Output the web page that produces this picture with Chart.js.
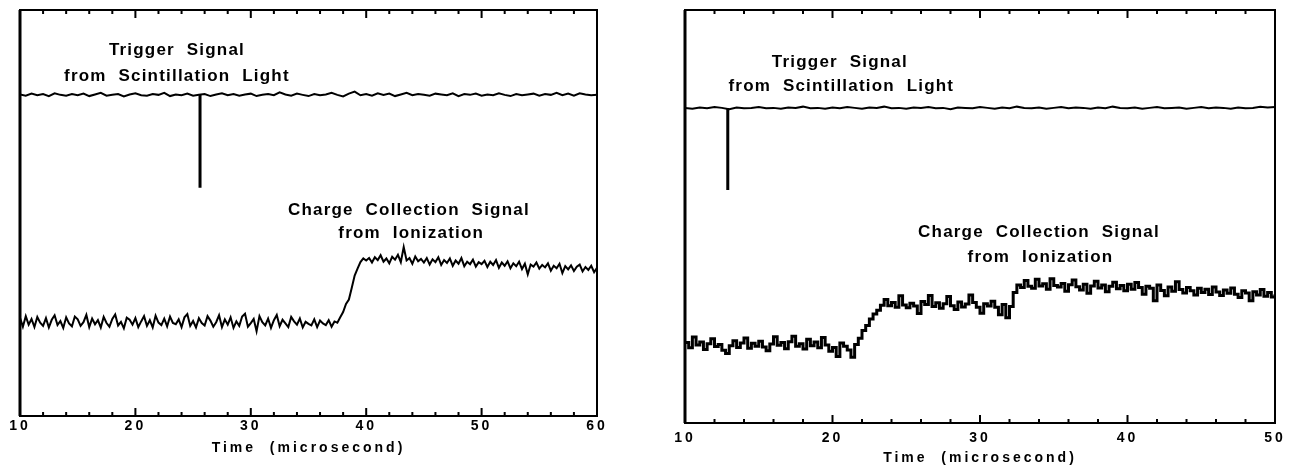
<!DOCTYPE html>
<html>
<head>
<meta charset="utf-8">
<title>Trigger and charge collection signals</title>
<script src="https://cdn.jsdelivr.net/npm/chart.js@4.4.0/dist/chart.umd.min.js"></script>
<style>
  html, body { margin: 0; padding: 0; background: #fff; }
  #wrap { position: relative; width: 1293px; height: 475px; overflow: hidden; }
  canvas { position: absolute; top: 0; }
  #leftChart { left: 0; }
  #rightChart { left: 645px; }
</style>
</head>
<body>
<div id="wrap">
  <canvas id="leftChart" width="645" height="475"></canvas>
  <canvas id="rightChart" width="648" height="475"></canvas>
</div>
<script>
/* ===== Data (level in arbitrary units, 0-100) ===== */

// left panel, 10..60 microseconds
const leftRange = [10, 60];
const leftTrigStep = 0.5;     // samples every 0.5 us starting at 10
const leftTrigger = [
  79.2, 78.9, 79.4, 79.0, 79.3, 78.8, 79.5, 79.1, 78.9, 79.3,   // 10
  79.0, 79.4, 78.8, 79.2, 79.6, 78.9, 79.1, 79.3, 78.7, 79.2,   // 15
  79.5, 79.0, 78.9, 79.3, 79.1, 79.6, 78.8, 79.2, 79.0, 79.4,   // 20
  78.9, 79.1, 79.3, 78.8, 79.2, 79.5, 79.0, 79.3, 78.9, 79.2,   // 25
  79.4, 78.8, 79.1, 79.3, 79.0, 79.7, 79.2, 78.9, 79.4, 79.1,   // 30
  78.8, 79.3, 79.0, 79.2, 79.6, 79.1, 78.7, 79.4, 79.9, 79.0,   // 35
  79.3, 78.9, 79.5, 79.1, 79.4, 78.8, 79.2, 79.6, 79.0, 79.3,   // 40
  79.1, 78.9, 79.4, 79.2, 79.0, 79.5, 78.8, 79.3, 79.1, 79.4,   // 45
  78.9, 79.2, 79.0, 79.5, 79.1, 78.8, 79.3, 79.0, 79.2, 79.4,   // 50
  78.9, 79.3, 79.1, 79.6, 79.0, 79.4, 78.9, 79.5, 79.2, 79.0,   // 55
  79.1
];
const leftSpikeTime = [25.6, 25.6];
const leftSpikeLevel = [79.1, 56.2];

const leftChargeStep = 0.25;  // samples every 0.25 us starting at 10
const leftCharge = [
  24.2, 22.0, 24.6, 22.5, 23.9, 21.9, 24.4, 23.0, 22.2, 24.1, 21.8, 23.7, 24.8, 22.4, 23.4, 21.7, 24.3, 22.8, 22.1, 24.5, // 10
  23.8, 22.2, 23.1, 24.9, 21.9, 24.0, 22.6, 23.6, 21.8, 24.4, 22.9, 22.0, 23.9, 25.0, 22.3, 23.2, 21.6, 24.2, 23.7, 22.5, // 15
  24.1, 21.9, 23.3, 24.6, 22.2, 23.6, 21.8, 24.7, 23.0, 22.4, 24.0, 22.1, 24.5, 22.9, 22.6, 23.8, 21.9, 24.3, 25.1, 22.2, // 20
  23.4, 21.8, 24.1, 22.9, 22.3, 24.6, 23.5, 22.0, 23.1, 24.8, 21.9, 23.8, 22.5, 24.3, 21.7, 23.3, 22.2, 24.5, 25.2, 22.0, // 25
  22.9, 23.9, 20.9, 24.6, 23.1, 22.3, 24.0, 21.7, 23.6, 24.9, 22.1, 23.7, 22.8, 21.9, 24.4, 23.3, 22.5, 24.0, 21.8, 23.2, // 30
  22.7, 22.3, 23.8, 21.9, 23.5, 22.8, 22.4, 23.6, 22.0, 23.3, 23.0, 24.3, 25.6, 27.6, 28.7, 31.6, 34.6, 36.3, 37.9, 38.8, // 35
  38.3, 38.9, 37.8, 39.1, 38.4, 39.6, 38.0, 38.8, 37.6, 39.2, 38.5, 39.7, 37.9, 41.6, 38.3, 38.9, 37.5, 39.3, 38.1, 38.7, // 40
  37.8, 38.9, 37.3, 38.6, 37.9, 39.1, 37.2, 38.4, 37.7, 38.8, 37.0, 38.3, 37.5, 38.9, 36.9, 38.0, 37.4, 38.5, 36.8, 37.9, // 45
  37.4, 38.2, 36.7, 38.0, 37.2, 38.4, 36.5, 37.8, 37.0, 38.1, 36.4, 37.6, 36.9, 38.0, 36.2, 37.5, 34.9, 37.3, 36.8, 37.8, // 50
  36.3, 37.2, 36.6, 37.6, 35.8, 37.0, 36.4, 37.5, 35.2, 36.9, 36.1, 37.1, 35.7, 36.8, 37.3, 35.6, 36.7, 36.0, 37.0, 35.4, // 55
  36.5
];

// right panel, 10..50 microseconds
const rightRange = [10, 50];
const rightTrigStep = 0.5;
const rightTrigger = [
  76.3, 76.1, 76.4, 76.2, 76.5, 76.3, 76.0, 76.4, 76.2, 76.3,   // 10
  76.5, 76.2, 76.3, 76.1, 76.4, 76.3, 76.6, 76.2, 76.3, 76.1,   // 15
  76.4, 76.2, 76.5, 76.3, 76.1, 76.4, 76.3, 76.6, 76.2, 76.3,   // 20
  76.1, 76.4, 76.3, 76.5, 76.2, 76.3, 76.0, 76.4, 76.3, 76.2,   // 25
  76.5, 76.3, 76.1, 76.4, 76.2, 76.6, 76.3, 76.2, 76.4, 76.1,   // 30
  76.3, 76.5, 76.2, 76.4, 76.3, 76.1, 76.4, 76.2, 76.6, 76.3,   // 35
  76.2, 76.4, 76.1, 76.3, 76.5, 76.2, 76.3, 76.4, 76.1, 76.3,   // 40
  76.5, 76.2, 76.4, 76.3, 76.1, 76.4, 76.2, 76.3, 76.6, 76.4,   // 45
  76.5
];
const rightSpikeTime = [12.9, 12.9];
const rightSpikeLevel = [76.3, 56.4];

const rightChargeStep = 0.25;
const rightCharge = [
  19.5, 18.2, 20.8, 18.9, 19.6, 17.8, 19.2, 20.4, 18.5, 19.0, 17.6, 16.8, 18.7, 19.9, 18.3, 19.4, 20.6, 18.1, 19.3, 18.6, // 10
  19.8, 18.4, 17.5, 19.1, 20.9, 18.8, 19.5, 18.0, 19.7, 21.0, 18.6, 19.2, 17.9, 20.3, 18.7, 19.6, 18.2, 20.7, 18.9, 17.4, // 15
  18.3, 16.1, 19.4, 18.6, 17.7, 15.9, 19.0, 20.5, 22.4, 23.6, 25.2, 26.4, 27.3, 28.5, 29.9, 28.4, 29.2, 28.0, 30.8, 28.6, // 20
  27.9, 29.0, 28.3, 26.5, 29.4, 28.7, 30.9, 28.2, 29.1, 27.8, 28.9, 30.6, 28.4, 27.5, 29.3, 28.1, 28.8, 31.0, 29.2, 28.0, // 25
  26.6, 28.9, 28.3, 29.5, 28.0, 26.2, 28.7, 25.5, 28.2, 31.6, 33.4, 32.8, 34.5, 33.1, 32.6, 34.8, 33.2, 33.7, 32.4, 34.9, // 30
  33.3, 32.9, 33.8, 31.9, 33.5, 34.6, 33.0, 32.2, 33.6, 31.4, 33.2, 34.3, 32.7, 33.4, 31.8, 33.1, 34.1, 32.5, 33.3, 32.0, // 35
  33.6, 32.4, 34.0, 32.8, 31.2, 33.1, 32.6, 29.6, 33.4, 32.1, 30.8, 32.9, 31.9, 34.2, 32.3, 31.5, 32.8, 32.0, 31.0, 32.6, // 40
  31.6, 32.4, 31.1, 32.9, 31.7, 30.9, 32.2, 31.4, 32.7, 31.2, 30.4, 32.0, 31.5, 29.6, 31.8, 31.0, 32.3, 30.7, 31.6, 30.5, // 45
  31.2
];

// axis ticks (drawn inward, top and bottom)
const leftMajorTicks = [10, 20, 30, 40, 50, 60];
const leftMinorTicks = [12, 14, 16, 18, 22, 24, 26, 28, 32, 34, 36, 38, 42, 44, 46, 48, 52, 54, 56, 58];
const rightMajorTicks = [10, 20, 30, 40, 50];
const rightMinorTicks = [12, 14, 16, 18, 22, 24, 26, 28, 32, 34, 36, 38, 42, 44, 46, 48];

// text notes, placed in data coordinates [time, level]
const leftNotes = [
  { text: "Trigger  Signal", t: 23.6, v: 90.1 },
  { text: "from  Scintillation  Light", t: 23.6, v: 83.7 },
  { text: "Charge  Collection  Signal", t: 43.7, v: 50.7 },
  { text: "from  Ionization", t: 43.9, v: 45.1 }
];
const rightNotes = [
  { text: "Trigger  Signal", t: 20.5, v: 87.4 },
  { text: "from  Scintillation  Light", t: 20.6, v: 81.6 },
  { text: "Charge  Collection  Signal", t: 34.0, v: 46.2 },
  { text: "from  Ionization", t: 34.1, v: 40.2 }
];

/* ===== Helpers ===== */
const FONT = '"Liberation Sans", Arial, sans-serif';

function sampled(values, start, step){
  return values.map((v, i) => ({ x: start + i * step, y: v }));
}
function paired(times, levels){
  return times.map((t, i) => ({ x: t, y: levels[i] }));
}

/* frame + inward ticks + notes */
const scopePlugin = {
  id: "scope",
  beforeDraw(chart, args, opts){
    chart.ctx.letterSpacing = opts.tickSpacing;
  },
  afterDraw(chart, args, opts){
    const { ctx, chartArea: a } = chart;
    const xs = chart.scales.x, ys = chart.scales.y;
    ctx.save();
    ctx.strokeStyle = "#000";
    ctx.lineWidth = 2;
    ctx.strokeRect(a.left, a.top, a.right - a.left, a.bottom - a.top);
    ctx.lineWidth = 3;
    ctx.beginPath(); ctx.moveTo(a.left, a.top); ctx.lineTo(a.left, a.bottom); ctx.stroke();

    ctx.lineWidth = 2;
    const tick = (t, len) => {
      const px = xs.getPixelForValue(t);
      ctx.beginPath();
      ctx.moveTo(px, a.bottom); ctx.lineTo(px, a.bottom - len);
      ctx.moveTo(px, a.top); ctx.lineTo(px, a.top + len);
      ctx.stroke();
    };
    opts.major.forEach(t => tick(t, 8));
    opts.minor.forEach(t => tick(t, 4));

    ctx.fillStyle = "#000";
    ctx.font = "bold 17px " + FONT;
    ctx.letterSpacing = opts.noteSpacing;
    ctx.textAlign = "center";
    ctx.textBaseline = "middle";
    opts.notes.forEach(n => ctx.fillText(n.text, xs.getPixelForValue(n.t), ys.getPixelForValue(n.v)));
    ctx.restore();
  }
};

function makeScope(id, p){
  return new Chart(document.getElementById(id), {
    type: "line",
    data: {
      datasets: [
        { data: sampled(p.trigger, p.range[0], p.trigStep), borderColor: "#000", borderWidth: 2 },
        { data: paired(p.spikeTime, p.spikeLevel), borderColor: "#000", borderWidth: 3 },
        { data: sampled(p.charge, p.range[0], p.chargeStep), borderColor: "#000",
          borderWidth: p.chargeWidth, stepped: p.chargeStepped }
      ]
    },
    options: {
      responsive: false,
      animation: false,
      devicePixelRatio: 1,
      layout: { padding: p.padding },
      elements: { point: { radius: 0 }, line: { tension: 0 } },
      plugins: {
        legend: { display: false },
        tooltip: { enabled: false },
        scope: { major: p.major, minor: p.minor, notes: p.notes, tickSpacing: "3px", noteSpacing: "1.2px" }
      },
      scales: {
        x: {
          type: "linear", min: p.range[0], max: p.range[1],
          afterFit(s){ s.height = 45; },
          grid: { display: false, drawTicks: false },
          border: { display: false },
          ticks: { stepSize: 10, color: "#000", padding: p.tickPad, maxRotation: 0, autoSkip: false,
                   font: { family: FONT, size: 14, weight: "bold" } },
          title: { display: true, text: "Time  (microsecond)", color: "#000",
                   font: { family: FONT, size: 14, weight: "bold" }, padding: { top: 0, bottom: p.titlePad } }
        },
        y: { display: false, min: 0, max: 100 }
      }
    },
    plugins: [scopePlugin]
  });
}

/* ===== Init ===== */
makeScope("leftChart", {
  range: leftRange, trigger: leftTrigger, trigStep: leftTrigStep,
  spikeTime: leftSpikeTime, spikeLevel: leftSpikeLevel,
  charge: leftCharge, chargeStep: leftChargeStep, chargeWidth: 2, chargeStepped: false,
  major: leftMajorTicks, minor: leftMinorTicks, notes: leftNotes,
  padding: { left: 20, right: 48, top: 10, bottom: 14 }, tickPad: 2, titlePad: 4
});
makeScope("rightChart", {
  range: rightRange, trigger: rightTrigger, trigStep: rightTrigStep,
  spikeTime: rightSpikeTime, spikeLevel: rightSpikeLevel,
  charge: rightCharge, chargeStep: rightChargeStep, chargeWidth: 3, chargeStepped: true,
  major: rightMajorTicks, minor: rightMinorTicks, notes: rightNotes,
  padding: { left: 40, right: 18, top: 10, bottom: 7 }, tickPad: 7, titlePad: 1
});
</script>
</body>
</html>
